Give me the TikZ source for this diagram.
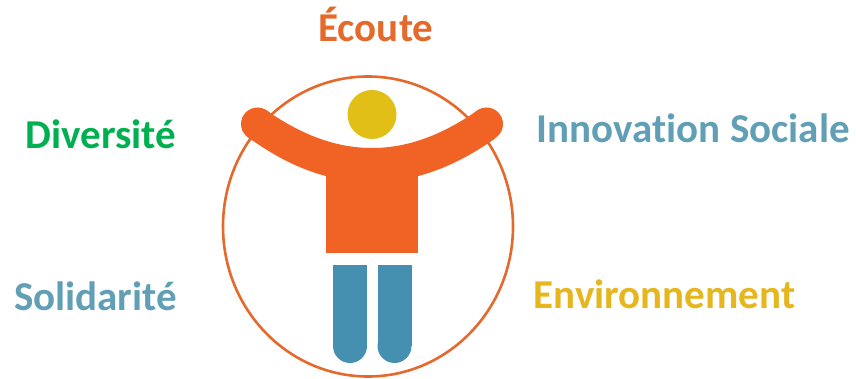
\documentclass[tikz,border=0pt]{standalone}
\usepackage{fontspec}
\setmainfont[Ligatures=NoCommon]{Carlito}
\definecolor{ringorange}{HTML}{E5682C}
\definecolor{bodyorange}{HTML}{F06325}
\definecolor{headyellow}{HTML}{E2BF17}
\definecolor{legblue}{HTML}{4590B0}
\definecolor{wordorange}{HTML}{E5692B}
\definecolor{wordgreen}{HTML}{00B050}
\definecolor{wordblue}{HTML}{609FB5}
\definecolor{wordgold}{HTML}{E5B61E}
\begin{document}
\begin{tikzpicture}
[x=1pt,y=-1pt,
word/.style={inner sep=0pt,anchor=base,font=\fontsize{41}{43}\selectfont\bfseries},
ring/.style={draw=ringorange,line width=2.6pt},
body/.style={fill=bodyorange},
leg/.style={fill=legblue}]
\useasboundingbox (0,0) rectangle (856,379);
\draw[ring] (368,226.5) ellipse [x radius=145,y radius=150];
\fill[headyellow] (372,114.5) circle (24.5);
\fill[body] (266,110) .. controls (300,134) and (335,148) .. (372,148)
  .. controls (409,148) and (444,134) .. (478,110)
  -- (494.9,138.75) .. controls (464,160) and (424,182) .. (372,182)
  .. controls (320,182) and (280,160) .. (250.1,138.75) -- cycle;
\fill[body] (257.5,124) circle (16.5);
\fill[body] (486.5,124) circle (16.5);
\fill[body] (326,165) rectangle (418,252.7);
\fill[leg] (333,264.7) rectangle (367,346);
\fill[leg] (350,346) circle (17);
\fill[leg] (377.5,264.7) rectangle (411.5,346);
\fill[leg] (394.5,346) circle (17);
\node[word,text=wordorange] (ecoute) at (375.9,41.3) {Écoute};
\node[word,text=wordgreen] (diversite) at (100.9,148.3) {Diversité};
\node[word,text=wordblue] (innovation) at (693.3,142.3) {Innovation Sociale};
\node[word,text=wordblue] (solidarite) at (95.4,310) {Solidarité};
\node[word,text=wordgold] (environnement) at (664.5,308.3) {Environnement};
\end{tikzpicture}
\end{document}
